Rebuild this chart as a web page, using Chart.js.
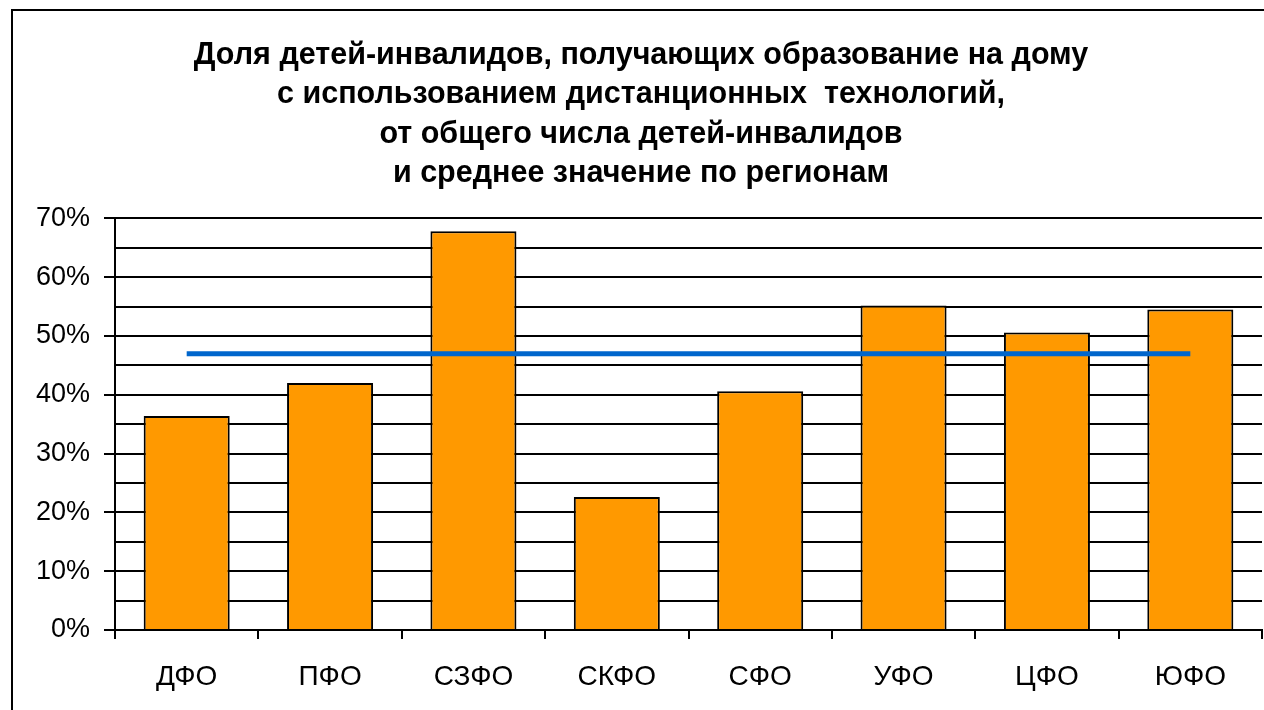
<!DOCTYPE html>
<html>
<head>
<meta charset="utf-8">
<script src="https://cdn.jsdelivr.net/npm/chart.js@4"></script>
<style>
  html, body { margin: 0; padding: 0; background: #fff; overflow: hidden; }
  #wrap { position: relative; width: 1264px; height: 710px; }
  #frame { position: absolute; left: 11px; top: 9px; width: 1300px; height: 750px; border: 2px solid #000; box-sizing: border-box; pointer-events: none; }
</style>
</head>
<body>
<div id="wrap">
  <canvas id="chart"></canvas>
  <div id="frame"></div>
</div>
<script>
// данные графика
const regions = ['ДФО', 'ПФО', 'СЗФО', 'СКФО', 'СФО', 'УФО', 'ЦФО', 'ЮФО'];
const shareValues = [36.4, 42.0, 67.8, 22.6, 40.6, 55.2, 50.6, 54.5];
const averageValues = [47, 47, 47, 47, 47, 47, 47, 47];
const yTicks = [0, 10, 20, 30, 40, 50, 60, 70];
const titleLines = [
    'Доля детей-инвалидов, получающих образование на дому',
    'с использованием дистанционных  технологий,',
    'от общего числа детей-инвалидов',
    'и среднее значение по регионам'
];

const ctx = document.getElementById('chart').getContext('2d');
const chart = new Chart(ctx, {
    type: 'bar',
    data: {
        labels: regions,
        datasets: [{
            type: 'line',
            label: 'Среднее',
            data: averageValues,
            borderColor: '#0066CC',
            borderWidth: 5,
            pointRadius: 0,
            fill: false,
            order: 0,
        }, {
            label: 'Доля',
            data: shareValues,
            backgroundColor: '#FF9900',
            borderColor: '#000',
            borderWidth: 2,
            barPercentage: 0.6,
            categoryPercentage: 1,
            order: 1,
        }],
    },
    options: {
        responsive: true,
        maintainAspectRatio: false,
        animation: false,
        layout: { padding: { left: 20, right: 2, top: 36, bottom: 0 } },
        plugins: {
            legend: { display: false },
            tooltip: { enabled: false },
            title: {
                display: true,
                text: titleLines,
                color: '#000',
                font: { family: 'Liberation Sans, Arial', size: 30.5, weight: 'bold', lineHeight: 1.29 },
                padding: { top: 0, bottom: 25 },
            },
        },
        scales: {
            x: {
                grid: { offset: true, drawOnChartArea: false, color: '#000', tickLength: 9, lineWidth: 2 },
                border: { color: '#000', width: 2 },
                ticks: { color: '#000', padding: 21, font: { family: 'Liberation Sans, Arial', size: 28 } },
                afterFit: (scale) => { scale.height = 80; },
            },
            y: {
                min: 0,
                max: 70,
                afterBuildTicks: (scale) => {
                    const t = [];
                    for (let v = 0; v <= 70; v += 5) t.push({ value: v });
                    scale.ticks = t;
                },
                grid: {
                    color: '#000',
                    lineWidth: 2,
                    tickLength: 11,
                    tickColor: (c) => (c.tick && yTicks.includes(c.tick.value)) ? '#000' : 'rgba(0,0,0,0)',
                },
                border: { color: '#000', width: 2 },
                ticks: {
                    color: '#000',
                    padding: 14,
                    autoSkip: false,
                    font: { family: 'Liberation Sans, Arial', size: 27 },
                    callback: (v) => yTicks.includes(v) ? v + '%' : '',
                },
                afterFit: (scale) => { scale.width = 95; },
            },
        },
    },
});
</script>
</body>
</html>
